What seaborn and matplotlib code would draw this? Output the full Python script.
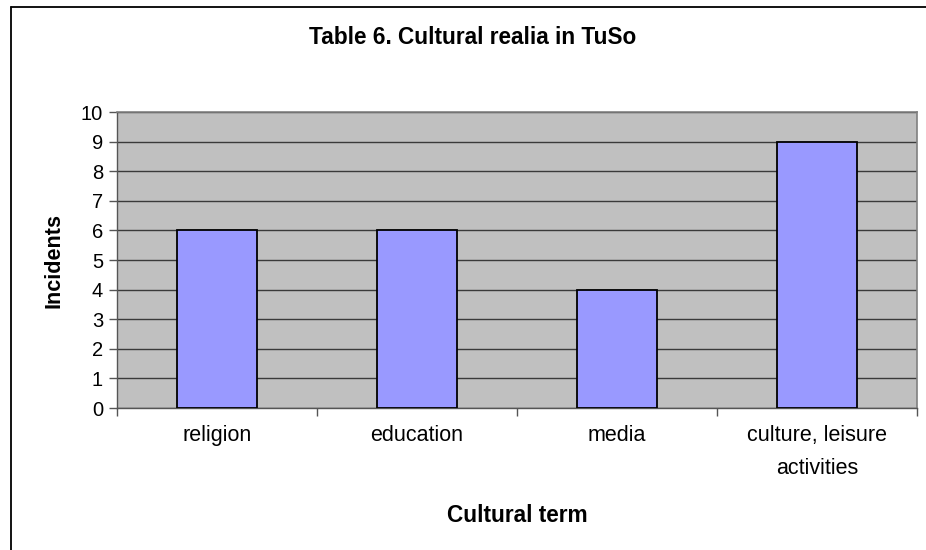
import matplotlib
matplotlib.use("Agg")
import matplotlib.pyplot as plt
import seaborn as sns
import pandas as pd
from matplotlib.lines import Line2D

categories = ["religion", "education", "media", "culture, leisure\nactivities"]
incidents = [6, 6, 4, 9]
y_ticks = list(range(0, 11))

title = "Table 6. Cultural realia in TuSo"
x_label = "Cultural term"
y_label = "Incidents"

sns.set_theme(style="white")
plt.rcParams['font.family'] = ['Liberation Sans', 'DejaVu Sans']
plt.rcParams.update({"text.color": "black", "axes.labelcolor": "black",
                     "xtick.color": "black", "ytick.color": "black"})

df = pd.DataFrame({"category": categories, "incidents": incidents})

fig = plt.figure(figsize=(9.26, 5.5), dpi=100)
ax = fig.add_axes([117/926, 1 - 408/550, (917-117)/926, (408-112)/550])

sns.barplot(data=df, x="category", y="incidents", ax=ax, color="#9999FF",
            saturation=1, width=0.4, edgecolor="black", linewidth=1.3, zorder=3)

ax.set_facecolor("#C0C0C0")
ax.set_xlim(-0.5, len(categories) - 0.5)
ax.set_ylim(0, 10)
ax.set_yticks(y_ticks)
ax.yaxis.grid(True, color="#3a3a3a", linewidth=1.0, zorder=1)
ax.set_axisbelow(True)

for side in ["top", "right"]:
    ax.spines[side].set_color("#808080")
    ax.spines[side].set_linewidth(1.2)
for side in ["left", "bottom"]:
    ax.spines[side].set_color("#555555")
    ax.spines[side].set_linewidth(1.0)

ax.tick_params(axis="y", direction="out", length=6, width=1, color="#555555",
               labelcolor="black", labelsize=14.5, pad=4, left=True)
ax.set_xticks(range(len(categories)))
ax.set_xticklabels(categories, fontsize=15.5, linespacing=1.75)
ax.tick_params(axis="x", length=0, pad=12, bottom=False, labelcolor="black")
# category boundary ticks
ax.set_xticks([i - 0.5 for i in range(len(categories) + 1)], minor=True)
ax.tick_params(axis="x", which="minor", direction="out", length=6, width=1,
               color="#555555", bottom=True)

ax.set_xlabel(x_label, fontsize=16.3, fontweight="bold", labelpad=18, color="black")
ax.set_ylabel(y_label, fontsize=15.6, fontweight="bold", labelpad=12, color="black")

fig.text(473/926, 1 - 37/550, title, ha="center", va="center",
         fontsize=16.3, fontweight="bold", color="black")

# chart frame lines (left and top)
fig.add_artist(Line2D([11/926, 11/926], [0, 1 - 7/550], transform=fig.transFigure,
                      color="black", linewidth=1.3))
fig.add_artist(Line2D([11/926, 1], [1 - 7/550, 1 - 7/550], transform=fig.transFigure,
                      color="black", linewidth=1.3))

fig.savefig("out.png", dpi=100, facecolor="white")
